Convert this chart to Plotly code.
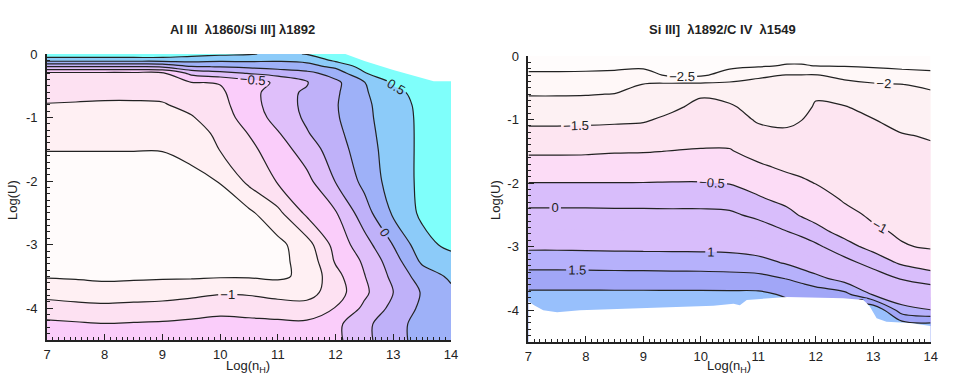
import plotly.graph_objects as go

# ---------------- Left panel: Al III 1860 / Si III] 1892 ----------------
left_x = [7, 7.5, 8, 8.5, 9, 9.5, 10, 10.5, 11, 11.5, 12, 12.5, 13, 13.5, 14]
left_y = [0, -0.1, -0.2, -0.3, -0.45, -0.6, -0.8, -1.0, -1.25, -1.5, -2.0,
          -2.5, -3.0, -3.25, -3.5, -3.75, -4.0, -4.25, -4.5]
left_z = [
    [0.7, 0.7, 0.7, 0.7, 0.7, 0.6, 0.55, 0.52, 0.45, 0.51, 0.6, 0.7, 0.7, 0.7, 0.7],
    [0.33, 0.33, 0.33, 0.33, 0.33, 0.33, 0.3, 0.3, 0.28, 0.3, 0.55, 0.65, 0.7, 0.7, 0.7],
    [-0.25, -0.25, -0.25, -0.25, -0.22, -0.02, 0.01, 0.05, 0.1, 0.17, 0.3, 0.6, 0.65, 0.7, 0.7],
    [-0.8, -0.8, -0.8, -0.8, -0.78, -0.43, -0.33, -0.23, -0.15, -0.07, 0.11, 0.49, 0.6, 0.65, 0.7],
    [-0.85, -0.85, -0.85, -0.85, -0.85, -0.76, -0.74, -0.62, -0.455, -0.27, -0.06, 0.24, 0.53, 0.62, 0.7],
    [-0.93, -0.93, -0.94, -0.94, -0.93, -0.83, -0.78, -0.625, -0.33, -0.22, -0.04, 0.22, 0.44, 0.58, 0.68],
    [-1.01, -1.02, -1.03, -1.03, -1.02, -0.93, -0.82, -0.615, -0.36, -0.2, -0.02, 0.2, 0.39, 0.56, 0.66],
    [-1.07, -1.08, -1.08, -1.08, -1.08, -1.02, -0.86, -0.65, -0.41, -0.21, -0.03, 0.19, 0.38, 0.55, 0.65],
    [-1.16, -1.16, -1.16, -1.16, -1.16, -1.1, -0.95, -0.74, -0.52, -0.27, -0.07, 0.17, 0.37, 0.55, 0.65],
    [-1.24, -1.24, -1.24, -1.24, -1.24, -1.18, -0.99, -0.81, -0.62, -0.38, -0.12, 0.14, 0.37, 0.55, 0.65],
    [-1.4, -1.4, -1.4, -1.4, -1.38, -1.32, -1.24, -0.94, -0.73, -0.57, -0.24, 0.07, 0.37, 0.55, 0.65],
    [-1.4, -1.4, -1.4, -1.4, -1.4, -1.4, -1.35, -1.3, -1.06, -0.7, -0.52, -0.11, 0.29, 0.55, 0.65],
    [-1.4, -1.4, -1.4, -1.4, -1.4, -1.4, -1.4, -1.36, -1.32, -1.1, -0.66, -0.35, 0.01, 0.41, 0.57],
    [-1.33, -1.33, -1.33, -1.33, -1.33, -1.33, -1.33, -1.32, -1.3, -1.18, -0.72, -0.46, -0.11, 0.3, 0.4],
    [-1.27, -1.28, -1.3, -1.29, -1.28, -1.28, -1.27, -1.27, -1.29, -1.2, -0.83, -0.51, -0.19, 0.12, 0.29],
    [-1.09, -1.12, -1.14, -1.13, -1.12, -1.08, -1.03, -1.04, -1.1, -1.1, -0.87, -0.55, -0.25, 0.02, 0.2],
    [-0.89, -0.92, -0.94, -0.92, -0.9, -0.86, -0.82, -0.84, -0.87, -0.9, -0.74, -0.45, -0.18, 0.05, 0.15],
    [-0.7, -0.72, -0.74, -0.73, -0.72, -0.7, -0.68, -0.69, -0.7, -0.7, -0.56, -0.32, -0.08, 0.08, 0.12],
    [-0.62, -0.62, -0.62, -0.62, -0.62, -0.62, -0.62, -0.62, -0.62, -0.62, -0.56, -0.32, -0.08, 0.08, 0.12],
]
left_levels_all = dict(start=-1.25, end=0.5, size=0.25)
left_colors = ["#fffbfb", "#fff0f3", "#fde1f2", "#facdfa", "#dfbffa",
               "#bfb1f9", "#9eb1f8", "#8ccbf9", "#7ffffb"]
# upper edge of the computed grid (white area above it, top right)
left_valid_top_x = [12.17, 12.5, 13.0, 13.5, 13.7, 14.0]
left_valid_top_y = [0.0, -0.11, -0.25, -0.38, -0.43, -0.43]

# ---------------- Right panel: Si III] 1892 / C IV 1549 ----------------
right_x = [7, 7.5, 8, 8.5, 9, 9.5, 10, 10.5, 11, 11.5, 11.75, 12, 12.5, 13, 13.5, 14]
right_y = [0, -0.15, -0.3, -0.45, -0.6, -0.8, -1.0, -1.25, -1.5, -1.75, -2.0,
           -2.25, -2.5, -2.75, -3.0, -3.25, -3.5, -3.75, -4.0, -4.25, -4.5]
# one list per x column (top to bottom)
right_z_cols = [
    [-2.8, -2.62, -2.43, -2.23, -2.03, -1.82, -1.61, -1.34, -1.07, -0.78, -0.49, -0.19, 0.15, 0.53, 0.91, 1.31, 1.72, 2.1, 2.3, 2.4, 2.5],
    [-2.8, -2.62, -2.43, -2.23, -2.03, -1.82, -1.61, -1.34, -1.07, -0.78, -0.49, -0.19, 0.15, 0.53, 0.91, 1.31, 1.72, 2.1, 2.3, 2.4, 2.5],
    [-2.8, -2.62, -2.42, -2.22, -2.02, -1.81, -1.6, -1.33, -1.06, -0.78, -0.49, -0.19, 0.15, 0.52, 0.9, 1.3, 1.72, 2.1, 2.3, 2.4, 2.5],
    [-2.8, -2.6, -2.4, -2.19, -1.99, -1.79, -1.58, -1.31, -1.03, -0.77, -0.49, -0.2, 0.14, 0.52, 0.89, 1.29, 1.71, 2.1, 2.3, 2.4, 2.5],
    [-2.8, -2.6, -2.31, -1.98, -1.87, -1.71, -1.55, -1.29, -1.02, -0.76, -0.49, -0.19, 0.13, 0.51, 0.88, 1.28, 1.71, 2.1, 2.3, 2.4, 2.5],
    [-2.75, -2.64, -2.6, -1.9, -1.79, -1.58, -1.4, -1.2, -0.99, -0.74, -0.48, -0.19, 0.12, 0.5, 0.88, 1.27, 1.7, 2.1, 2.3, 2.4, 2.5],
    [-2.75, -2.65, -2.57, -1.89, -1.55, -1.39, -1.28, -1.13, -0.97, -0.73, -0.48, -0.19, 0.12, 0.49, 0.87, 1.27, 1.69, 2.1, 2.3, 2.4, 2.5],
    [-2.75, -2.61, -2.32, -1.88, -1.65, -1.44, -1.31, -1.14, -0.97, -0.75, -0.52, -0.23, 0.09, 0.47, 0.85, 1.25, 1.67, 2.1, 2.3, 2.4, 2.5],
    [-2.8, -2.58, -2.05, -1.91, -1.81, -1.68, -1.55, -1.35, -1.15, -0.93, -0.69, -0.44, -0.12, 0.27, 0.73, 1.19, 1.64, 2.1, 2.3, 2.4, 2.5],
    [-2.75, -2.46, -1.99, -1.9, -1.81, -1.69, -1.58, -1.42, -1.24, -1.07, -0.86, -0.64, -0.36, -0.01, 0.46, 0.94, 1.48, 1.94, 2.2, 2.4, 2.5],
    [-2.75, -2.46, -1.99, -1.89, -1.79, -1.65, -1.51, -1.37, -1.24, -1.1, -0.94, -0.74, -0.54, -0.17, 0.29, 0.77, 1.33, 1.89, 2.2, 2.4, 2.5],
    [-2.75, -2.52, -1.98, -1.8, -1.56, -1.45, -1.38, -1.29, -1.19, -1.1, -1.01, -0.83, -0.64, -0.38, 0.12, 0.61, 1.15, 1.81, 2.2, 2.4, 2.5],
    [-2.75, -2.54, -2.13, -1.87, -1.68, -1.48, -1.42, -1.34, -1.27, -1.19, -1.12, -1.04, -0.89, -0.66, -0.34, 0.19, 0.79, 1.65, 2.3, 2.4, 2.5],
    [-2.75, -2.57, -2.25, -1.95, -1.81, -1.63, -1.49, -1.41, -1.34, -1.27, -1.2, -1.13, -1.06, -0.94, -0.64, -0.23, 0.34, 0.95, 2.5, 2.5, 2.5],
    [-2.75, -2.59, -2.36, -1.99, -1.9, -1.76, -1.62, -1.48, -1.41, -1.34, -1.27, -1.2, -1.13, -1.06, -0.97, -0.58, -0.05, 0.56, 1.23, 2.35, 2.5],
    [-2.75, -2.6, -2.41, -2.09, -1.93, -1.81, -1.68, -1.53, -1.44, -1.37, -1.31, -1.24, -1.17, -1.1, -1.04, -0.77, -0.24, 0.38, 1.02, 2.25, 2.5],
]
right_colors = ["#fffcfc", "#fff8f8", "#fdf1f3", "#fde5f1", "#fcdcf6",
                "#d8bdfb", "#d8bdfb", "#d8bdfb", "#b6b1fb", "#a1a6f7", "#98c0fc"]
# lower edge of the computed grid (white area below it)
right_valid_bottom_x = [7.0, 7.1, 7.26, 7.5, 7.9, 8.5, 9.06, 9.5, 10.22, 10.57,
                        10.68, 10.8, 11.5, 12.48, 12.83, 12.94, 13.06, 13.23, 13.64, 14.0]
right_valid_bottom_y = [-3.86, -3.92, -4.0, -4.03, -4.0, -3.98, -3.96, -3.95, -3.93, -3.9,
                        -3.92, -3.84, -3.79, -3.81, -3.84, -3.94, -4.125, -4.18, -4.2, -4.25]

x_range = [7, 14]
y_range = [-4.5, 0]
x_ticks = [7, 8, 9, 10, 11, 12, 13, 14]
y_ticks = [-4, -3, -2, -1, 0]
y_ticktext = ["-4", "-3", "-2", "-1", "0"]

titles = ["Al III\u00a0\u00a0\u03bb1860/Si III] \u03bb1892",
          "Si III]\u00a0\u00a0\u03bb1892/C IV\u00a0\u00a0\u03bb1549"]
x_title = "Log(n<sub>H</sub>)"
y_title = "Log(U)"

FONT = "Liberation Sans, Arial, Helvetica, sans-serif"
INK = "#222222"

right_z = [list(r) for r in zip(*right_z_cols)]


def scale(colors):
    n = len(colors) - 1
    return [[i / n, c] for i, c in enumerate(colors)]


fig = go.Figure()

# ---- left panel traces
fig.add_trace(go.Contour(
    x=left_x, y=left_y, z=left_z, xaxis="x", yaxis="y",
    contours=dict(coloring="fill", showlines=False, **left_levels_all),
    colorscale=scale(left_colors), showscale=False, line=dict(width=0),
    hoverinfo="skip"))
fig.add_trace(go.Contour(
    x=left_x, y=left_y, z=left_z, xaxis="x", yaxis="y",
    contours=dict(coloring="none", start=-1.25, end=0.25, size=0.5),
    line=dict(color=INK, width=1.2), showscale=False, hoverinfo="skip"))
fig.add_trace(go.Contour(
    x=left_x, y=left_y, z=left_z, xaxis="x", yaxis="y",
    contours=dict(coloring="none", start=-1, end=0.5, size=0.5, showlabels=True,
                  labelfont=dict(family=FONT, size=13, color=INK)),
    line=dict(color=INK, width=1.2), showscale=False, hoverinfo="skip"))
fig.add_trace(go.Scatter(
    x=left_valid_top_x + [x_range[1], left_valid_top_x[0]],
    y=left_valid_top_y + [y_range[1], y_range[1]],
    xaxis="x", yaxis="y", mode="lines", fill="toself",
    fillcolor="white", line=dict(width=0, color="white"), hoverinfo="skip",
    showlegend=False))

# ---- right panel traces
fig.add_trace(go.Contour(
    x=right_x, y=right_y, z=right_z, xaxis="x2", yaxis="y2",
    contours=dict(coloring="fill", showlines=False, start=-2.5, end=2, size=0.5),
    colorscale=scale(right_colors), showscale=False, line=dict(width=0),
    hoverinfo="skip"))
for s, e in [(-2.5, 0), (1, 2)]:
    fig.add_trace(go.Contour(
        x=right_x, y=right_y, z=right_z, xaxis="x2", yaxis="y2",
        contours=dict(coloring="none", start=s, end=e, size=0.5, showlabels=True,
                      labelfont=dict(family=FONT, size=13, color=INK)),
        line=dict(color=INK, width=1.2), showscale=False, hoverinfo="skip"))
fig.add_trace(go.Scatter(
    x=right_valid_bottom_x + [x_range[1], x_range[0]],
    y=right_valid_bottom_y + [y_range[0], y_range[0]],
    xaxis="x2", yaxis="y2", mode="lines", fill="toself",
    fillcolor="white", line=dict(width=0, color="white"), hoverinfo="skip",
    showlegend=False))

axis_common = dict(
    showline=True, linecolor=INK, linewidth=1.6, mirror=False,
    ticks="inside", ticklen=6, tickwidth=1.2, tickcolor=INK,
    showgrid=False, zeroline=False, automargin=False,
    tickfont=dict(family=FONT, size=13, color=INK),
    minor=dict(ticks="inside", ticklen=3, tickwidth=1, tickcolor=INK,
               dtick=0.1, tick0=0, showgrid=False),
    layer="above traces",
)
xcommon = dict(axis_common, range=x_range, tickmode="array", tickvals=x_ticks,
               ticktext=[str(t) for t in x_ticks], ticklabelstandoff=2)
ycommon = dict(axis_common, range=y_range, tickmode="array", tickvals=y_ticks,
               ticktext=y_ticktext, ticklabelstandoff=5)

W, H = 961, 386
title_font = dict(family=FONT, size=13, color=INK)
ann = []
for cx, t in [(242, titles[0]), (722.5, titles[1])]:
    ann.append(dict(text="<b>" + t + "</b>", x=cx / W, y=(H - 29) / H,
                    xanchor="center", yanchor="middle",
                    xref="paper", yref="paper", showarrow=False, font=title_font))
for cx in [248, 729]:
    ann.append(dict(text=x_title, x=cx / W, y=(H - 366) / H, xref="paper",
                    xanchor="center", yanchor="middle",
                    yref="paper", showarrow=False, font=title_font))
for cx in [12, 495]:
    ann.append(dict(text=y_title, x=cx / W, y=(H - 200) / H, xref="paper",
                    xanchor="center", yanchor="middle",
                    yref="paper", showarrow=False, textangle=-90, font=title_font))

fig.update_layout(
    width=W, height=H,
    margin=dict(l=0, r=0, t=0, b=0),
    paper_bgcolor="white", plot_bgcolor="white",
    showlegend=False,
    xaxis=dict(xcommon, domain=[47 / W, 451 / W], anchor="y"),
    yaxis=dict(ycommon, domain=[(H - 340) / H, (H - 54) / H], anchor="x"),
    xaxis2=dict(xcommon, domain=[528.3 / W, 930.7 / W], anchor="y2"),
    yaxis2=dict(ycommon, domain=[(H - 342) / H, (H - 56) / H], anchor="x2"),
    annotations=ann,
)

fig.write_html(
    "out.html",
    config={"displayModeBar": False},
    post_script="document.body.style.margin='0';document.body.style.overflow='hidden';",
)
